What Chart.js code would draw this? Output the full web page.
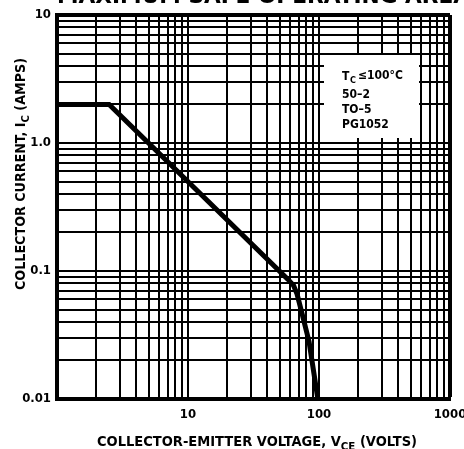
<!DOCTYPE html>
<html>
<head>
<meta charset="utf-8">
<script src="https://cdn.jsdelivr.net/npm/chart.js@4.4.0/dist/chart.umd.min.js"></script>
<style>
  html, body { margin: 0; padding: 0; background: #fff; }
  #wrap { width: 464px; height: 449px; }
</style>
</head>
<body>
<div id="wrap"><canvas id="soa" width="464" height="449"></canvas></div>
<script>
// SOA boundary (VCE in volts, IC in amps)
const vce = [1, 2.5, 58, 64, 68, 74, 84, 98];
const ic  = [2, 2, 0.086, 0.077, 0.066, 0.047, 0.028, 0.01];

// grid lines: 1..9 per decade
const xGrid = [1, 2, 3, 4, 5, 6, 7, 8, 9, 10, 20, 30, 40, 50, 60, 70, 80, 90,
               100, 200, 300, 400, 500, 600, 700, 800, 900, 1000];
const yGrid = [0.01, 0.02, 0.03, 0.04, 0.05, 0.06, 0.07, 0.08, 0.09,
               0.1, 0.2, 0.3, 0.4, 0.5, 0.6, 0.7, 0.8, 0.9,
               1, 2, 3, 4, 5, 6, 7, 8, 9, 10];
const xTickVals = [10, 100, 1000];
const xTickText = ['10', '100', '1000'];
const yTickVals = [10, 1, 0.1, 0.01];
const yTickText = ['10', '1.0', '0.1', '0.01'];

const FONT = "'DejaVu Sans Condensed', 'Liberation Sans Narrow', sans-serif";

// draw [text, isSub] pieces, squeezed to a given width
function drawRich(ctx, parts, size, cx, cy, width) {
  const big = 'bold ' + size + 'px ' + FONT;
  const small = 'bold ' + Math.round(size * 0.75) + 'px ' + FONT;
  let total = 0;
  parts.forEach(p => { ctx.font = p[1] ? small : big; total += ctx.measureText(p[0]).width; });
  const sx = width ? width / total : 1;
  ctx.save();
  ctx.translate(cx, cy);
  ctx.scale(sx, 1);
  ctx.textBaseline = 'alphabetic';
  ctx.textAlign = 'left';
  ctx.fillStyle = '#000';
  let x = -total / 2;
  parts.forEach(p => {
    ctx.font = p[1] ? small : big;
    ctx.fillText(p[0], x, p[1] ? size * 0.4 + 3 : size * 0.37);
    x += ctx.measureText(p[0]).width;
  });
  ctx.restore();
}

const decor = {
  id: 'decor',
  afterDraw(chart) {
    const ctx = chart.ctx;
    // title, cropped at the top edge
    ctx.save();
    ctx.font = 'bold 22px ' + FONT;
    const w = ctx.measureText('MAXIMUM SAFE OPERATING AREA').width;
    ctx.translate(57, 3);
    ctx.scale(413 / w, 1);
    ctx.fillStyle = '#000';
    ctx.textBaseline = 'alphabetic';
    ctx.fillText('MAXIMUM SAFE OPERATING AREA', 0, 0);
    ctx.restore();

    // axis titles
    drawRich(ctx, [['COLLECTOR-EMITTER VOLTAGE, V', false], ['CE', true], [' (VOLTS)', false]],
      14, 257, 441, 320);
    ctx.save();
    ctx.translate(20, 174);
    ctx.rotate(-Math.PI / 2);
    drawRich(ctx, [['COLLECTOR CURRENT, I', false], ['C', true], [' (AMPS)', false]],
      14, 0, 0, 232);
    ctx.restore();

    // note box
    ctx.save();
    ctx.fillStyle = '#fff';
    ctx.fillRect(324, 55, 95, 83);
    ctx.fillStyle = '#000';
    ctx.font = 'bold 12px ' + FONT;
    ctx.fillText('T', 342, 80);
    ctx.font = 'bold 9px ' + FONT;
    ctx.fillText('C', 350, 83);
    ctx.font = 'bold 12px ' + FONT;
    ctx.fillText('\u2264100\u00b0C', 358, 79);
    ctx.fillText('50\u20132', 342, 98);
    ctx.fillText('TO\u20135', 342, 113);
    ctx.fillText('PG1052', 342, 128);
    ctx.restore();
  }
};

const lineW = (edge) => (c) => (c.tick && c.tick.value === edge ? 4 : 2);

new Chart(document.getElementById('soa'), {
  type: 'line',
  data: {
    datasets: [{
      data: vce.map((v, i) => ({ x: v, y: ic[i] })),
      borderColor: '#000',
      borderWidth: 5,
      pointRadius: 0,
      tension: 0,
      fill: false
    }]
  },
  options: {
    responsive: false,
    animation: false,
    layout: { padding: { top: 15, right: 14, left: 0, bottom: 0 } },
    plugins: { legend: { display: false }, tooltip: { enabled: false } },
    scales: {
      x: {
        type: 'logarithmic',
        min: 1,
        max: 1000,
        afterBuildTicks: s => { s.ticks = xGrid.map(v => ({ value: v })); },
        afterFit: s => { s.height = 50; s.paddingLeft = 0; s.paddingRight = 0; },
        grid: { color: '#000', lineWidth: lineW(1000), drawTicks: false },
        border: { display: true, color: '#000', width: 4 },
        ticks: {
          autoSkip: false,
          maxRotation: 0,
          padding: 8,
          color: '#000',
          font: { family: FONT, size: 13, weight: 'bold' },
          callback: v => { const i = xTickVals.indexOf(v); return i < 0 ? '' : xTickText[i]; }
        }
      },
      y: {
        type: 'logarithmic',
        min: 0.01,
        max: 10,
        afterBuildTicks: s => { s.ticks = yGrid.map(v => ({ value: v })); },
        afterFit: s => { s.width = 57; s.paddingTop = 0; s.paddingBottom = 0; },
        grid: { color: '#000', lineWidth: lineW(10), drawTicks: false },
        border: { display: true, color: '#000', width: 4 },
        ticks: {
          autoSkip: false,
          padding: 6,
          color: '#000',
          font: { family: FONT, size: 13, weight: 'bold' },
          callback: v => {
            const i = yTickVals.findIndex(t => Math.abs(t - v) < t * 1e-6);
            return i < 0 ? '' : yTickText[i];
          }
        }
      }
    }
  },
  plugins: [decor]
});
</script>
</body>
</html>
